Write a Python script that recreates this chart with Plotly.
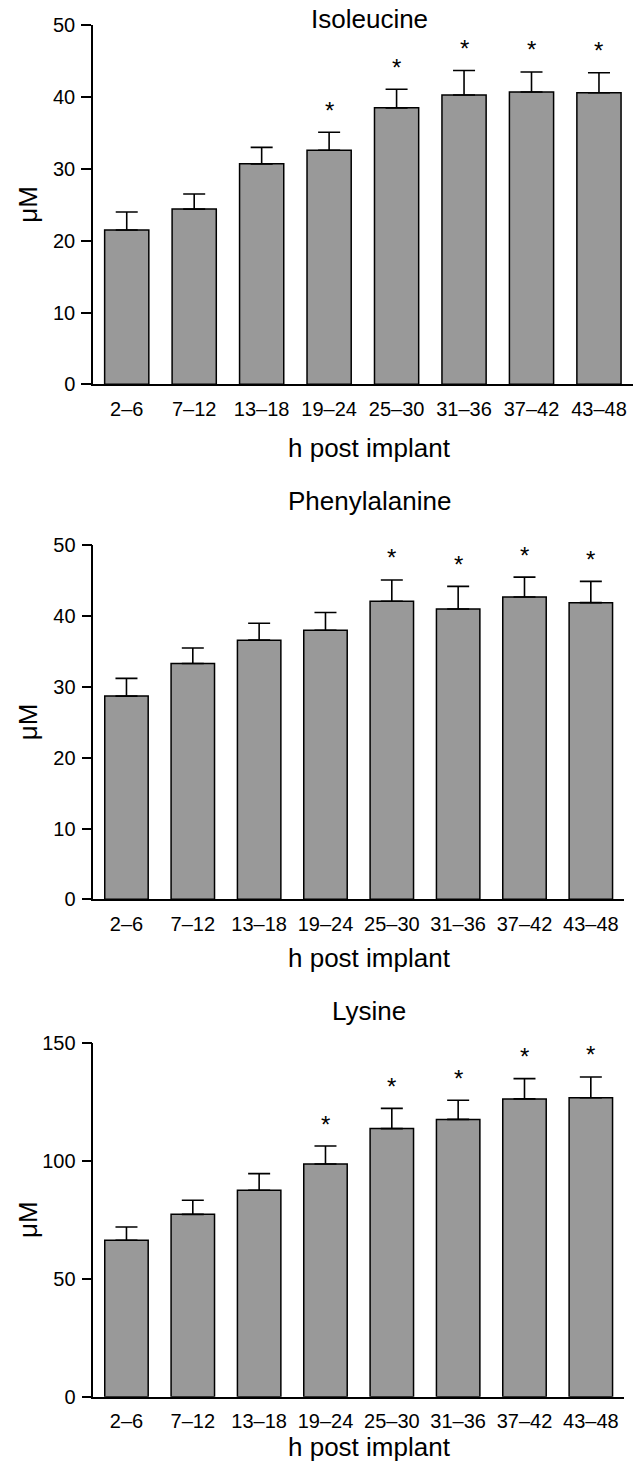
import plotly.graph_objects as go

categories = ["2–6", "7–12", "13–18", "19–24", "25–30", "31–36", "37–42", "43–48"]

iso_mean = [21.5, 24.4, 30.7, 32.6, 38.5, 40.3, 40.7, 40.6]
iso_sem = [2.5, 2.1, 2.3, 2.5, 2.6, 3.4, 2.8, 2.8]
iso_sig = [0, 0, 0, 1, 1, 1, 1, 1]

phe_mean = [28.7, 33.3, 36.6, 38.0, 42.1, 41.0, 42.7, 41.9]
phe_sem = [2.5, 2.2, 2.4, 2.5, 3.0, 3.2, 2.8, 3.0]
phe_sig = [0, 0, 0, 0, 1, 1, 1, 1]

lys_mean = [66.4, 77.4, 87.6, 98.8, 113.8, 117.7, 126.4, 126.9]
lys_sem = [5.6, 6.0, 7.1, 7.6, 8.6, 8.1, 8.6, 8.8]
lys_sig = [0, 0, 0, 1, 1, 1, 1, 1]

titles = ["Isoleucine", "Phenylalanine", "Lysine"]
y_ranges = [[0, 50], [0, 50], [0, 150]]
y_ticks = [[0, 10, 20, 30, 40, 50], [0, 10, 20, 30, 40, 50], [0, 50, 100, 150]]

W, H = 637, 1465
FONT = "Liberation Sans, Arial, Helvetica, sans-serif"

# pixel geometry of panels (left, right, top, bottom)
panels_px = [(93, 632.7, 25.3, 384.3), (93.3, 624, 545.3, 899.3), (93.3, 624, 1043.3, 1396.7)]
title_y_px = [19, 501, 1011]
xtitle_bottom_px = [465, 975, 1463.5]

series = [(iso_mean, iso_sem, iso_sig), (phe_mean, phe_sem, phe_sig), (lys_mean, lys_sem, lys_sig)]

fig = go.Figure()
annotations = []
layout = {}
for i, ((mean, sem, sig), (l, r, t, b)) in enumerate(zip(series, panels_px)):
    n = "" if i == 0 else str(i + 1)
    xa, ya = "x" + n, "y" + n
    fig.add_trace(go.Bar(
        x=categories, y=mean, xaxis=xa, yaxis=ya,
        marker=dict(color="#999999", line=dict(color="black", width=1.5)),
        width=0.655,
        error_y=dict(type="data", array=sem, arrayminus=[0] * len(sem), symmetric=False,
                     color="black", thickness=1.6, width=11),
        showlegend=False, hoverinfo="skip",
    ))
    layout["xaxis" + n] = dict(
        domain=[l / W, r / W], anchor=ya, type="category", range=[-0.5, 7.5],
        showline=True, linecolor="black", linewidth=1.5, ticks="",
        tickfont=dict(family=FONT, size=20, color="black"), ticklabelstandoff=6,
        showgrid=False, zeroline=False, fixedrange=True, automargin=False,
    )
    layout["yaxis" + n] = dict(
        domain=[1 - b / H, 1 - t / H], anchor=xa, range=y_ranges[i],
        tickvals=y_ticks[i], showline=True, linecolor="black", linewidth=1.5,
        ticks="outside", ticklen=10, tickwidth=1.5, tickcolor="black",
        tickfont=dict(family=FONT, size=20, color="black"), ticklabelstandoff=2,
        showgrid=False, zeroline=False, fixedrange=True, automargin=False,
    )
    annotations.append(dict(text=titles[i], xref="paper", yref="paper",
                            x=369 / W, y=1 - title_y_px[i] / H, xanchor="center", yanchor="middle",
                            showarrow=False, font=dict(family=FONT, size=26, color="black")))
    annotations.append(dict(text="h post implant", xref="paper", yref="paper",
                            x=369.5 / W, y=1 - xtitle_bottom_px[i] / H, xanchor="center", yanchor="bottom",
                            showarrow=False, font=dict(family=FONT, size=26, color="black")))
    annotations.append(dict(text="μM", xref="paper", yref="paper", textangle=-90,
                            x=28 / W, y=1 - (t + b) / 2 / H, xanchor="center", yanchor="middle",
                            showarrow=False, font=dict(family=FONT, size=26, color="black")))
    for c, m, s, g in zip(categories, mean, sem, sig):
        if g:
            annotations.append(dict(text="*", xref=xa, yref=ya, x=c, y=m + s,
                                    xanchor="center", yanchor="middle", yshift=22,
                                    showarrow=False, font=dict(family=FONT, size=24, color="black")))

fig.update_layout(
    width=W, height=H, margin=dict(l=0, r=0, t=0, b=0, pad=0, autoexpand=False),
    paper_bgcolor="white", plot_bgcolor="white",
    annotations=annotations, **layout,
)
fig.write_html("out.html", config={"displayModeBar": False},
               post_script="document.body.style.margin='0';")
